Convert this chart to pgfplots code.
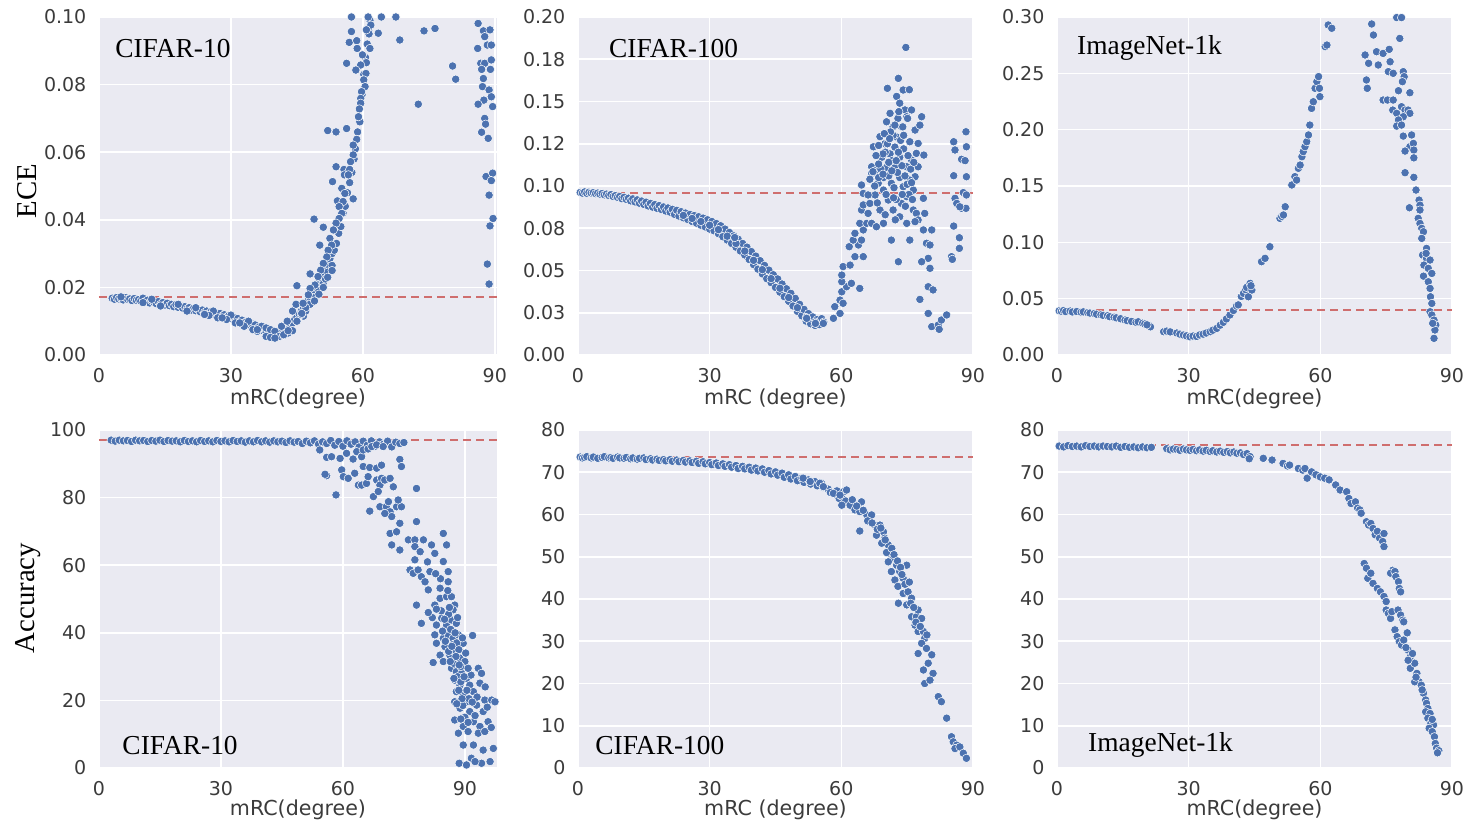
\documentclass[border=0pt]{standalone}
\usepackage{pgfplots}
\pgfplotsset{compat=1.18}
\usepackage{fontspec}
\setmainfont{DejaVu Sans}
\newfontfamily\timesf{Liberation Serif}
\definecolor{bgc}{HTML}{EAEAF2}
\definecolor{dotc}{HTML}{4C72B0}
\definecolor{tickc}{HTML}{3B3B3B}
\definecolor{refc}{HTML}{CF6E6E}
\tikzset{dlab/.style={anchor=west, inner sep=0pt, font=\fontsize{13.7}{15}\selectfont\timesf}}
\pgfplotsset{
  sns/.style={
    scale only axis, width=197.5pt, height=169pt, anchor=south west,
    axis background/.style={fill=bgc},
    axis line style={draw=none},
    xmajorgrids, ymajorgrids,
    major grid style={white, line width=0.8pt},
    major tick length=0pt,
    tick label style={font=\fontsize{9.5}{11}\selectfont, text=tickc},
    /pgf/number format/assume math mode=true,
    xticklabel style={yshift=-3.3pt},
    yticklabel style={xshift=-2.8pt},
    xlabel style={font=\fontsize{10.3}{12}\selectfont, text=tickc, at={(axis description cs:0.5,-0.13)}, anchor=center},
    ylabel style={font=\fontsize{14.4}{16}\selectfont\timesf, at={(axis description cs:-0.181,0.485)}, anchor=center},
    xmin=0, xtick={0,30,60,90},
  },
  dots/.style={only marks, mark=*, mark size=2.1pt, mark options={fill=dotc, draw=white, line width=0.25pt}},
  refl/.style={refc, line width=0.7pt, dash pattern=on 4pt off 2.5pt},
}
\begin{document}
\begin{tikzpicture}
\useasboundingbox (0,0) rectangle (733.5pt,-412.5pt);
% ---------------- TL: CIFAR-10 ECE
\begin{axis}[sns, at={(49.5pt,-177.5pt)}, width=199pt, xmax=90.5, ymin=0, ymax=0.1,
  ytick={0,0.02,0.04,0.06,0.08,0.1}, yticklabels={0.00,0.02,0.04,0.06,0.08,0.10},
  xlabel={mRC(degree)}, ylabel={ECE}]
\addplot[dots] coordinates {
(3.0,.0168)(3.5,.0165)(4.0,.0170)(4.5,.0166)(5.0,.0168)(5.5,.0163)(6.0,.0170)(6.5,.0165)(7.0,.0166)(7.5,.0161)
(8.0,.0167)(8.5,.0162)(9.0,.0164)(9.5,.0159)(10.0,.0168)(10.5,.0158)(11.0,.0162)(11.5,.0154)(12.0,.0160)(12.5,.0156)
(13.0,.0152)(13.5,.0158)(14.0,.0150)(14.5,.0155)(15.0,.0148)(15.5,.0153)(16.0,.0146)(16.5,.0150)(17.0,.0143)(17.5,.0149)
(18.0,.0141)(18.5,.0146)(19.0,.0139)(19.5,.0143)(20.0,.0136)(20.5,.0140)(21.0,.0133)(21.5,.0138)(22.0,.0131)(22.5,.0135)
(23.0,.0128)(23.5,.0133)(24.0,.0126)(24.5,.0130)(25.0,.0123)(25.5,.0128)(26.0,.0121)(26.5,.0125)(27.0,.0118)(27.5,.0123)
(28.0,.0115)(28.5,.0119)(29.0,.0112)(29.5,.0116)(30.0,.0108)(30.5,.0112)(31.0,.0104)(31.5,.0108)(32.0,.0099)(32.5,.0103)
(33.0,.0095)(33.5,.0098)(34.0,.0090)(34.5,.0094)(35.0,.0085)(35.5,.0089)(36.0,.0079)(36.5,.0084)(37.0,.0073)(37.5,.0078)
(38.0,.0067)(38.5,.0072)(39.0,.0062)(39.5,.0068)(40.0,.0060)(40.5,.0065)(41.0,.0062)(41.5,.0070)(42.0,.0068)(42.5,.0076)
(43.0,.0080)(43.5,.0090)(44.0,.0095)(44.5,.0105)(45.0,.0112)(45.5,.0122)(46.0,.0130)(46.5,.0140)(47.0,.0150)(47.5,.0160)
(48.0,.0170)(48.5,.0180)(49.0,.0192)(49.5,.0200)(50.0,.0215)(50.5,.0228)(51.0,.0240)(51.5,.0255)(52.0,.0268)(52.5,.0285)(53.0,.0300)
(5,.0172)(12,.0165)(18,.0150)(22,.0140)(26,.0130)(30,.0118)(34,.0100)(37,.0085)(38,.0080)(39,.0075)(40,.0070)
(41,.0055)(42,.0058)(43,.0065)(44,.0072)(44,.0130)(44.8,.0150)(45,.0205)(46.5,.0115)(47,.0130)(48,.0150)(48,.0240)
(49,.0170)(50,.0190)(51,.0210)(51.5,.0225)(52,.0245)(53,.0265)(38,.0055)(39,.0052)(40,.0050)(36,.0070)(35,.0075)
(33,.0085)(31,.0095)(29,.0105)(27,.0110)(25,.0117)
(10,.0155)(14,.0145)(20,.0130)(24,.0120)(28,.0110)(32,.0095)(36,.0075)(42,.0060)(43,.0072)(45,.0100)(46,.0120)(47,.0140)
(49,.0160)(50,.0180)(51,.0200)(52,.0230)(53,.0250)(41.5,.0085)(42.8,.0100)
(53.5,.031)(54,.033)(54.5,.036)(55,.038)(55.5,.042)(56,.044)(56.5,.048)(57,.051)(57.5,.054)(58,.058)(58.3,.061)
(58.8,.066)(59.3,.069)(59.8,.077)(60.2,.083)(60.6,.088)(61,.092)(61.3,.096)(61.6,.099)
(57.4,.1)(61.2,.1)(64.2,.1)(67.5,.1)(57.4,.0957)(56.9,.0925)(58.6,.093)(58.7,.0907)(61.8,.0976)(61.4,.095)(63.5,.0952)
(60.8,.0962)(61.6,.0907)(59.9,.0888)(60.8,.0865)(59.5,.0858)(58.4,.0843)(56.3,.0863)(60.7,.0833)(60.2,.0814)(60.5,.0794)
(59.7,.0779)(59.5,.0759)(59.5,.0745)(59.2,.0728)(59.0,.0705)(52.0,.0664)(53.9,.066)(56.3,.067)(58.6,.0638)(57.8,.0621)
(57.8,.0592)(57.2,.0572)(53.9,.0557)(55.7,.0549)(57.0,.0549)(55.8,.0533)(56.7,.0533)(53.1,.0513)(55.2,.0493)(55.9,.0478)
(57.8,.0462)(54.2,.0456)(55.5,.0454)(54.6,.0439)(55.2,.0419)(54.6,.0404)(48.9,.0402)(53.9,.039)(51.0,.0378)(53.3,.037)
(52.5,.0345)(50.2,.0325)(52.9,.0325)(52.1,.031)(51.8,.029)(51.0,.0271)(50.4,.0251)(49.8,.0232)(49.1,.0207)(48.0,.0197)
(47.6,.0178)(46.4,.0153)(46.1,.0123)
(86.2,.0981)(87.4,.0959)(88.9,.0962)(87.7,.0942)(88.3,.0917)(86.1,.0907)(89.2,.0917)(86.8,.0863)(87.7,.0863)(89.2,.0873)
(87.0,.0845)(89.0,.0845)(87.4,.0818)(87.2,.0794)(88.7,.0784)(87.5,.0754)(89.2,.0764)(86.2,.0742)(89.5,.0735)(87.7,.07)
(87.9,.0683)(87.0,.0659)(88.5,.0641)(88.0,.0528)(89.5,.0538)(89.2,.0516)(88.7,.0473)(89.6,.0404)(88.9,.0382)(88.3,.0269)(88.7,.021)
(73.9,.0959)(76.4,.0966)(68.4,.0932)(80.4,.0855)(81.1,.0816)(72.6,.0742)
};
\addplot[refl] coordinates {(0,0.0172) (90.5,0.0172)};
\node[dlab] at (rel axis cs:0.04,0.908) {CIFAR-10};
\end{axis}
% ---------------- TM: CIFAR-100 ECE
\begin{axis}[sns, at={(289pt,-177.5pt)}, xmax=90, ymin=0, ymax=0.2,
  ytick={0,0.025,0.05,0.075,0.1,0.125,0.15,0.175,0.2},
  yticklabels={0.00,0.03,0.05,0.08,0.10,0.12,0.15,0.18,0.20},
  xlabel={mRC (degree)}]
\addplot[dots] coordinates {
(0.5,.0962)(1,.0958)(1.5,.0965)(2,.0957)(2.5,.0963)(3,.0959)(3.5,.0961)(4,.0955)(4.5,.0958)(5,.0952)(5.5,.0956)(6,.0948)
(6.5,.0952)(7,.0944)(7.5,.0949)(8,.0938)(8.5,.0943)(9,.0933)(9.5,.0938)(10,.0925)(10.5,.0933)(11,.0921)(11.5,.0928)(12,.0912)
(12.5,.0924)(13,.0906)(13.5,.0918)(14,.0898)(14.5,.0911)(15,.0891)(15.5,.0904)(16,.0882)(16.5,.0897)(17,.0875)(17.5,.0890)
(18,.0868)(18.5,.0884)(19,.0861)(19.5,.0876)(20,.0852)(20.5,.0870)(21,.0845)(21.5,.0862)(22,.0832)(22.5,.0856)(23,.0822)
(23.5,.0848)(24,.0812)(24.5,.0840)(25,.0802)(25.5,.0832)(26,.0790)(26.5,.0825)(27,.0780)(27.5,.0818)(28,.0768)(28.5,.0810)
(29,.0758)(29.5,.0800)(30,.0745)(30.5,.0790)(31,.0735)(31.5,.0778)(32,.0718)(32.5,.0765)(33,.0700)(33.5,.0745)(34,.0680)
(34.5,.0725)(35,.0660)(35.5,.0705)(36,.0638)(36.5,.0685)(37,.0615)(37.5,.0660)(38,.0592)(38.5,.0638)(39,.0565)(39.5,.0612)
(40,.0535)(40.5,.0585)(41,.0508)(41.5,.0558)(42,.0480)(42.5,.0530)(43,.0452)(43.5,.0502)(44,.0428)(44.5,.0475)(45,.0400)
(45.5,.0450)(46,.0372)(46.5,.0420)(47,.0345)(47.5,.0392)(48,.0318)(48.5,.0365)(49,.0290)(49.5,.0335)(50,.0258)(50.5,.0300)
(51,.0232)(51.5,.0270)(52,.0200)(52.5,.0245)(53,.0185)(53.5,.0225)(54,.0175)(54.5,.0210)(55,.0180)(55.5,.0215)(56,.0195)
(24,.0826)(26,.0808)(28,.0790)(30,.0768)(32,.0742)(34,.0703)(36,.0660)(38,.0615)(40,.0560)(42,.0505)(44,.0452)(46,.0395)
(48,.0340)(50,.0280)(52,.0222)(54,.0195)(35.7,.0695)
(52.1,.0217)(54.1,.0187)(55.9,.0187)(58.2,.0217)(59.7,.0246)(58.5,.0286)(59.7,.0325)(60.4,.0306)(60.1,.0374)(61.2,.0404)
(60.1,.0434)(62.3,.0424)(64.2,.0394)(60.1,.0473)(60.4,.0523)(62.0,.0532)(63.1,.0582)(61.8,.0641)(63.9,.0651)(65.0,.0582)
(64.6,.068)(62.7,.068)(63.1,.072)(65.0,.074)(64.2,.0779)(65.8,.0779)(64.6,.0858)(66.1,.0838)(66.9,.0779)(65.0,.0888)
(66.5,.0897)(67.7,.0947)(65.0,.0956)(64.6,.1006)(66.1,.0947)
(66.9,.1114)(66.9,.1075)(68.0,.1094)(67.3,.1232)(68.8,.1292)(70.3,.1380)(70.5,.1578)(71.1,.143)(71.8,.135)(69.9,.125)
(69.2,.117)(70.3,.111)(69.6,.105)(71.1,.119)(72.6,.153)(73.0,.1637)(74.1,.1568)(75.5,.157)(74.7,.182)(73.3,.149)(74.5,.145)
(74.9,.141)(73.7,.135)(72.6,.129)(72.2,.123)(73.3,.117)(72.2,.111)(73.3,.105)(71.4,.1016)(74.1,.0996)(74.9,.0937)(73.7,.0897)
(71.8,.0858)(73.3,.0818)(74.9,.0779)(71.4,.068)(73.0,.0552)(75.6,.068)(76.4,.0858)(77.1,.0838)(77.5,.0799)(76.4,.0976)
(76.8,.1055)(77.5,.1114)(77.1,.1193)(77.5,.1252)(76.8,.1331)(78.3,.141)(77.9,.136)(78.8,.1183)(75.6,.1262)(76.0,.1154)
(74.9,.1114)(75.6,.1035)(68.4,.1016)(69.6,.0976)(70.7,.0917)(68.8,.0858)(69.6,.0779)(68.0,.0759)(76.8,.0789)(78.7,.0927)
(79.0,.0838)(78.7,.074)(80.6,.074)(79.4,.0661)(80.2,.0651)(79.8,.0572)(78.3,.0552)(80.2,.0513)(79.8,.0404)(80.9,.0385)
(77.9,.0329)(79.8,.0246)(80.6,.0168)(82.1,.0178)(82.3,.0152)(82.8,.0207)(84.0,.0237)
(70.0,.1200)(71.5,.1150)(72.8,.1080)(74.2,.1220)(75.2,.1180)(70.8,.1060)(72.0,.0990)(73.8,.1120)(75.8,.1100)(76.5,.1140)
(69.0,.1100)(70.5,.1250)(71.8,.1300)(73.5,.1270)(74.0,.1350)(72.9,.1400)(71.2,.1320)(69.5,.1190)(68.5,.1050)(67.6,.1000)
(70.2,.0950)(72.5,.0920)(74.6,.0880)(75.4,.0950)(76.2,.0920)(73.9,.0950)(71.9,.0930)(68.2,.0900)(70.0,.0830)(72.3,.0800)
(66.5,.1040)(67.2,.1085)(68.5,.1130)(69.5,.1070)(70.8,.1140)(71.5,.1090)(72.5,.1150)(73.0,.1200)(74.5,.1060)(75.0,.1010)
(76.0,.1020)(69.8,.1310)(71.0,.1280)(72.2,.1360)(73.1,.1440)(74.2,.1300)(75.1,.1400)(76.0,.1450)(67.9,.1180)(68.5,.1240)
(85.6,.1262)(85.9,.1213)(88.4,.1321)(88.5,.1232)(87.4,.1158)(88.2,.115)(85.6,.1061)(88.5,.1055)(85.9,.0927)(86.3,.0897)
(87.8,.0961)(88.5,.0947)(87.4,.0868)(88.4,.0868)(87.0,.0877)(85.6,.0763)(86.9,.0694)(86.9,.0631)(85.1,.0582)(85.3,.0566)
};
\addplot[refl] coordinates {(0,0.0959) (90,0.0959)};
\node[dlab] at (rel axis cs:0.078,0.908) {CIFAR-100};
\end{axis}
% ---------------- TR: ImageNet ECE
\begin{axis}[sns, at={(528.5pt,-177.5pt)}, xmax=90, ymin=0, ymax=0.3,
  ytick={0,0.05,0.1,0.15,0.2,0.25,0.3},
  yticklabels={0.00,0.05,0.10,0.15,0.20,0.25,0.30},
  xlabel={mRC(degree)}]
\addplot[dots] coordinates {
(0.5,.0392)(1,.0388)(1.5,.0395)(2,.0385)(3,.0390)(3.5,.0382)(4.5,.0386)(5.5,.0380)(6,.0383)(7,.0376)(7.5,.0372)(8.5,.0368)
(9,.0362)(10,.0357)(10.5,.0352)(11.5,.0348)(12,.0340)(13,.0335)(13.5,.0330)(14.5,.0322)(15.5,.0310)(16,.0305)(17,.0298)
(18,.0290)(18.5,.0295)(19.5,.0282)(20,.0275)(21,.0262)(21.3,.0250)(20.5,.0268)
(24.3,.0207)(25,.0212)(25.8,.0205)(27.3,.0195)(28,.0185)(28.8,.0177)(29.5,.0170)(30.3,.0162)(31,.0168)(31.8,.0165)
(32.5,.0178)(33.3,.0185)(34,.0195)(34.9,.0207)(35.5,.0220)(36.4,.0236)(37.2,.0265)(37.9,.0290)(38.6,.0320)(39.4,.0355)
(40.2,.0395)(40.9,.0435)(41.3,.0445)(42,.0520)(42.5,.0547)(43,.0580)(43.2,.0600)(43.6,.0517)(44.0,.0636)(44.4,.0577)
(44.2,.0615)(46.6,.0828)(47.4,.0858)(48.5,.0961)(50.8,.1213)(51.2,.1230)(51.6,.1243)(52.0,.1316)(53.5,.1509)(54.2,.1583)
(54.6,.1553)(55.0,.1657)(55.4,.1686)(55.8,.176)(56.1,.1805)(56.5,.1849)(56.9,.1893)(57.3,.1953)(57.6,.2041)(58.0,.2189)
(58.4,.2248)(58.8,.2367)(59.2,.2426)(59.6,.2471)(59.8,.2367)(59.9,.2293)(61.1,.2737)(61.5,.2751)(61.8,.2929)(62.6,.29)
(71.7,.2938)(72.1,.284)(70.2,.2663)(71.0,.2589)(72.8,.2692)(73.2,.2574)(74.3,.2677)(75.7,.2713)(75.9,.2603)(75.5,.2515)
(76.6,.25)(77.4,.2995)(78.5,.2995)(78.1,.281)(78.9,.2515)(79.1,.247)(78.7,.2426)(70.5,.2441)(70.7,.2367)(74.3,.2263)
(75.3,.2263)(76.6,.2263)(77.8,.2346)(80.4,.2328)(76.5,.2174)(77.4,.2145)(78.5,.2204)(79.3,.2174)(80.0,.2174)(80.4,.2145)
(78.9,.2115)(77.8,.2086)(77.4,.2032)(78.5,.2041)(78.9,.1943)(80.8,.1953)(80.4,.1849)(81.2,.1878)(81.3,.1819)(79.3,.181)
(81.3,.175)(79.3,.1618)(81.3,.1577)(80.3,.1307)(81.8,.1464)(82.5,.1375)(82.7,.133)(82.7,.1287)(82.3,.1213)(82.7,.1168)
(83.1,.1124)(83.5,.1094)(83.1,.1035)(84.2,.0946)(83.3,.0887)(84.2,.0858)(83.6,.0798)(85.0,.0843)(84.6,.0769)(85.4,.0724)
(83.5,.07)(84.6,.065)(85.0,.0591)(85.1,.0517)(85.4,.0458)(85.0,.0384)(85.4,.0355)(85.9,.031)(86.3,.0266)(86.1,.0222)
(85.9,.0148)(85.6,.0281)(84.1,.0902)
};
\addplot[refl] coordinates {(0,0.0399) (90,0.0399)};
\node[dlab] at (rel axis cs:0.05,0.908) {ImageNet-1k};
\end{axis}
% ---------------- BL: CIFAR-10 accuracy
\begin{axis}[sns, at={(49.5pt,-384pt)}, width=199pt, xmax=97.9, ymin=0, ymax=100,
  ytick={0,20,40,60,80,100},
  xlabel={mRC(degree)}, ylabel={Accuracy},
  xlabel style={at={(axis description cs:0.5,-0.125)}},
  ylabel style={at={(axis description cs:-0.178,0.503)}}]
\addplot[dots] coordinates {
(3,97.0)(4,96.7)(5,97.0)(6,96.8)(7,96.9)(8,96.6)(9,97.0)(10,96.8)(11,96.9)(12,96.6)(13,96.9)(14,96.7)(15,97.0)(16,96.6)
(17,96.9)(18,96.7)(19,96.8)(20,96.5)(21,96.9)(22,96.6)(23,96.8)(24,96.5)(25,96.9)(26,96.6)(27,96.8)(28,96.5)(29,96.9)
(30,96.6)(31,96.8)(32,96.5)(33,96.9)(34,96.6)(35,96.8)(36,96.4)(37,96.8)(38,96.5)(39,96.9)(40,96.5)(41,96.8)(42,96.4)
(43,96.8)(44,96.5)(45,96.7)(46,96.3)(47,96.8)(48,96.4)(49,96.6)(50,96.0)(51,96.7)(52,96.2)(53,96.8)(54,95.8)(55,96.5)
(56,96.0)(57,96.9)(58,95.5)(59,96.6)(60,95.2)(61,96.8)(62,95.8)(63,96.5)(64,95.0)(65,96.7)(66,95.5)(67,96.8)(68,95.2)
(69,96.5)(70,95.8)(71,96.7)(72,95.0)(73,96.4)(74,96.0)(75,96.3)
(54.3,94.1)(56.0,91.9)(57.2,92.1)(59.3,91.6)(60.9,93.1)(62.5,91.4)(63.4,93.6)(64.6,92.1)(65.0,94.1)(66.2,94.4)(67.1,95.1)
(68.3,95.6)(69.9,95.1)(74.0,91.3)(74.4,89.2)(56.0,86.5)(55.6,86.9)(59.7,88.2)(60.1,86.2)(61.3,85.7)(62.9,87.2)(63.8,83.7)
(64.6,83.7)(65.8,84.2)(66.2,86.2)(65.0,89.2)(66.6,88.9)(68.3,88.7)(69.5,89.6)(58.3,80.8)(68.3,85.2)(69.5,85.7)(69.1,83.7)
(70.3,85.2)(71.6,85.7)(72.4,83.2)(67.5,80.3)(68.7,81.8)(66.6,76.0)(69.1,77.3)(70.7,77.3)(71.6,75.8)(72.0,74.4)(73.2,77.3)
(74.4,77.3)(73.6,79.3)(71.2,78.8)(70.3,75.3)(78.1,82.7)(74.0,72.4)(71.6,69.4)(73.2,69.9)(72.0,66.0)(74.0,64.5)(78.1,72.9)
(76.1,67.5)(77.7,67.5)(77.7,65.5)(79.8,67.5)(81.8,66.0)(84.7,69.4)(85.5,66.0)(79.0,64.0)(82.6,63.5)(77.7,61.6)(76.5,58.6)
(77.3,57.6)(78.5,58.6)(79.3,56.6)(81.4,58.1)(84.7,61.1)(85.9,58.1)(80.2,55.1)(81.0,52.7)(83.9,53.2)(85.9,55.1)(78.1,48.2)
(82.6,48.2)(83.9,50.2)(85.5,50.7)(86.7,50.7)(87.5,48.2)(87.1,46.8)(79.3,42.8)(83.0,42.3)(84.3,44.3)(85.5,42.3)(86.7,43.8)
(87.9,42.8)(82.6,39.4)(84.7,38.4)(85.9,39.4)(87.1,38.4)(88.4,39.4)(89.6,36.9)(91.9,39.2)(83.0,36.9)(85.1,35.9)(83.9,33.4)
(86.3,33.4)(87.5,34.9)(88.8,32.5)(82.2,31.2)(84.7,31.5)(90.0,31.5)(86.7,29.5)(87.9,28.5)(89.2,28.0)(90.4,26.5)(93.3,29.5)
(94.1,28.0)(87.5,26.0)(88.8,24.5)(91.2,24.5)(93.7,25.1)(87.9,22.6)(89.6,21.6)(92.1,22.6)(94.9,20.1)(96.6,20.1)(97.4,19.6)
(87.5,19.6)(90.4,19.6)(92.9,18.6)(88.8,17.7)(91.2,16.7)(94.5,16.7)(87.5,14.2)(89.6,12.3)(92.1,13.7)(93.7,12.3)(95.7,13.7)
(88.4,10.3)(90.8,10.8)(93.3,10.3)(94.9,10.8)(89.6,6.8)(92.1,6.8)(94.5,5.3)(97.0,5.8)(88.6,1.4)(90.4,0.9)(91.6,2.9)(94.1,1.4)
(96.2,1.9)(92.5,1.9)
(86.0,45.5)(86.5,41.0)(87.0,36.5)(88.0,37.0)(88.5,35.0)(89.0,30.0)(88.2,27.0)(89.0,25.5)(90.5,23.0)(89.5,18.5)(90.0,15.0)
(91.0,20.5)(92.5,15.5)(93.0,21.0)(95.5,18.0)(96.5,12.0)(95.0,24.0)(91.5,27.5)(90.2,34.0)(87.2,31.0)
(84.5,40.5)(85.2,37.5)(86.0,34.5)(86.8,36.0)(87.6,40.0)(88.2,44.5)(86.2,47.5)(85.0,44.0)(87.3,26.5)(88.5,23.0)(89.3,20.5)
(88.0,19.0)(89.0,14.5)(90.8,13.5)(91.8,19.5)(89.8,27.0)(90.8,29.5)(88.6,30.5)(87.8,33.0)(86.4,31.5)(89.4,38.5)(84.2,46.5)
(83.0,47.0)(82.0,44.5)(81.0,46.0)(85.8,52.5)(84.0,56.0)(82.8,57.5)(80.8,61.0)
};
\addplot[refl] coordinates {(0,97.0) (97.9,97.0)};
\node[dlab] at (rel axis cs:0.058,0.068) {CIFAR-10};
\end{axis}
% ---------------- BM: CIFAR-100 accuracy
\begin{axis}[sns, at={(289pt,-384pt)}, xmax=90, ymin=0, ymax=80,
  ytick={0,10,20,30,40,50,60,70,80},
  xlabel={mRC (degree)},
  xlabel style={at={(axis description cs:0.5,-0.125)}}]
\addplot[dots] coordinates {
(0.5,73.6)(1,73.4)(1.5,73.5)(2,73.7)(3,73.4)(3.5,73.6)(4.5,73.3)(5.5,73.5)(6,73.7)(7,73.4)(7.5,73.5)(8,73.3)(9,73.6)
(9.5,73.4)(10.5,73.3)(11,73.5)(12,73.2)(12.5,73.4)(13.5,73.1)(14,73.3)(15,73.4)(15.5,73.0)(16.5,73.2)(17,72.9)(18,73.1)
(18.5,72.8)(19.5,73.0)(20,72.7)(21,73.0)(21.5,72.6)(22.5,72.9)(23,72.5)(24,72.8)(24.5,72.4)(25.5,72.7)(26,72.3)(27,72.6)
(27.5,72.1)(28.5,72.5)(29,72.0)(30,72.3)(30.5,71.8)(31.5,72.2)(32,71.6)(33,72.0)(33.5,71.4)(34.5,71.8)(35,71.2)(36,71.6)
(36.5,70.9)(37.5,71.4)(38,70.8)(39,71.2)(39.5,70.5)(40.5,71.0)(41,70.3)(42,70.8)(42.5,70.0)(43.5,70.4)(44,69.6)(45,70.1)
(45.5,69.3)(46.5,69.8)(47,68.8)(48,69.4)(48.5,68.4)(49.5,69.0)(50,68.0)(51,68.6)(51.5,67.6)(52.5,68.2)(53,67.2)(54,67.8)
(54.5,66.8)(55.5,67.4)(56,66.4)(57,66.0)(57.5,65.2)(58.5,64.8)(59,65.6)(59.5,63.8)(60,64.4)(60.5,65.4)(61,63.2)
(51.3,68.6)(52.9,67.8)(55.1,67.4)(55.9,66.6)(58.2,65.0)(59.7,64.6)(61.2,65.8)(60.1,62.2)(62.0,62.2)(63.1,61.1)(64.6,63.0)
(64.2,60.7)(64.2,56.1)(65.8,59.9)(66.9,59.9)(67.7,57.5)(68.8,57.5)(69.6,55.9)(68.0,55.1)(69.9,54.4)(70.7,52.8)(69.2,53.2)
(71.1,50.8)(71.8,49.6)(70.7,48.8)(72.6,48.0)(71.4,46.5)(73.3,46.5)(72.2,44.5)(74.1,44.9)(74.9,48.0)(73.0,39.0)(74.1,41.3)
(75.2,41.7)(76.0,40.2)(74.9,38.6)(76.0,35.8)(77.1,35.8)(77.5,37.4)(78.3,35.4)(76.8,33.8)(77.5,32.3)(78.7,32.3)(79.0,30.7)
(78.3,29.5)(79.4,28.3)(77.5,27.1)(80.6,26.8)(79.8,24.8)(78.7,23.2)(80.9,22.4)(79.0,20.0)(80.2,20.8)(82.1,16.9)(82.8,15.7)
(84.0,11.8)(85.1,7.4)(85.5,6.2)(86.3,5.4)(85.9,4.6)(87.0,5.0)(87.8,3.5)(88.5,2.3)
(62.5,63.5)(63.5,62.0)(65.0,61.0)(66.0,58.5)(67.0,58.0)(68.2,56.5)(69.0,56.8)(70.0,54.0)(70.3,51.0)(71.5,52.0)(72.0,50.5)
(72.8,49.0)(73.5,47.5)(73.8,45.8)(72.9,43.0)(74.5,43.5)(75.5,44.0)(75.8,39.0)(76.5,38.0)(77.0,34.5)(78.0,33.5)(79.5,31.5)
};
\addplot[refl] coordinates {(0,73.6) (90,73.6)};
\node[dlab] at (rel axis cs:0.043,0.068) {CIFAR-100};
\end{axis}
% ---------------- BR: ImageNet accuracy
\begin{axis}[sns, at={(528.5pt,-384pt)}, xmax=90, ymin=0, ymax=80,
  ytick={0,10,20,30,40,50,60,70,80},
  xlabel={mRC(degree)},
  xlabel style={at={(axis description cs:0.5,-0.125)}}]
\addplot[dots] coordinates {
(0.5,76.2)(1.5,76.0)(2.5,76.3)(3.5,76.1)(4.5,76.2)(5.5,76.0)(6.5,76.3)(7.5,76.1)(8.5,76.2)(9.5,76.0)(10.5,76.2)(11.5,76.1)
(12.5,76.0)(13.5,76.2)(14.5,75.9)(15.5,76.1)(16.5,75.9)(17.5,76.0)(18.5,75.8)(19.5,76.0)(20.5,75.8)(21.5,75.9)
(25.0,75.6)(25.8,75.3)(26.5,75.5)(27.3,75.4)(28.0,75.2)(28.8,75.5)(29.5,75.3)(30.3,75.2)(31.0,75.4)(31.8,75.1)(32.5,75.3)
(33.3,75.0)(34.0,75.2)(34.9,74.9)(35.5,75.1)(36.4,74.8)(37.2,75.0)(38.0,74.7)(38.8,74.9)(39.5,74.6)(40.3,74.8)(41.0,74.5)
(41.8,74.6)(42.5,74.2)(43.3,74.4)(44.0,73.7)(43.8,73.2)
(47.0,73.3)(49.0,72.9)(51.5,72.1)(52.5,71.5)(53.0,71.7)(55.0,70.9)(56.0,70.5)(57.0,68.6)(56.5,70.9)(58.0,70.1)(59.0,69.4)
(60.0,68.9)(61.0,68.6)(62.0,68.2)(63.5,67.0)(64.5,65.8)(66.0,65.4)(66.5,63.8)(67.0,62.6)(68.0,63.0)(68.5,61.5)(69.0,61.1)
(69.3,60.3)(70.5,58.3)(71.0,57.5)(71.5,57.9)(72.0,56.7)(72.5,55.2)(73.0,56.0)(73.5,54.4)(74.2,53.6)(74.5,52.4)(74.5,55.5)
(70.0,48.4)(70.5,47.3)(70.8,44.9)(71.5,46.1)(72.0,43.7)(73.0,42.5)(73.7,41.7)(74.5,40.6)(75.0,39.4)(75.0,37.4)(75.5,36.6)
(76.0,35.4)(76.3,37.0)(76.5,46.8)(76.0,46.1)(77.0,46.5)(77.2,45.3)(77.8,44.1)(78.0,42.5)(78.3,41.7)(77.7,37.4)(78.3,36.2)
(78.8,35.0)(79.0,34.6)(77.0,32.7)(77.5,31.1)(78.0,29.9)(78.5,29.1)(79.0,30.3)(80.0,27.9)(80.5,26.3)(81.0,27.1)(80.5,23.6)
(81.5,24.8)(82.0,22.4)(82.5,20.4)(81.5,20.4)(83.0,19.6)(83.5,17.7)(84.0,16.1)(84.2,15.3)(84.5,14.1)(84.0,13.3)(85.0,12.9)
(84.5,11.8)(85.2,10.6)(85.8,10.2)(84.8,9.4)(85.5,8.6)(86.0,7.4)(86.2,5.8)(86.5,4.7)(87.0,4.1)(86.7,3.6)
(79.5,28.5)(80.0,25.5)(81.8,21.5)(83.2,18.5)(85.5,11.5)(79.8,32.0)
};
\addplot[refl] coordinates {(0,76.5) (90,76.5)};
\node[dlab] at (rel axis cs:0.078,0.068) {ImageNet-1k};
\end{axis}
\end{tikzpicture}
\end{document}
